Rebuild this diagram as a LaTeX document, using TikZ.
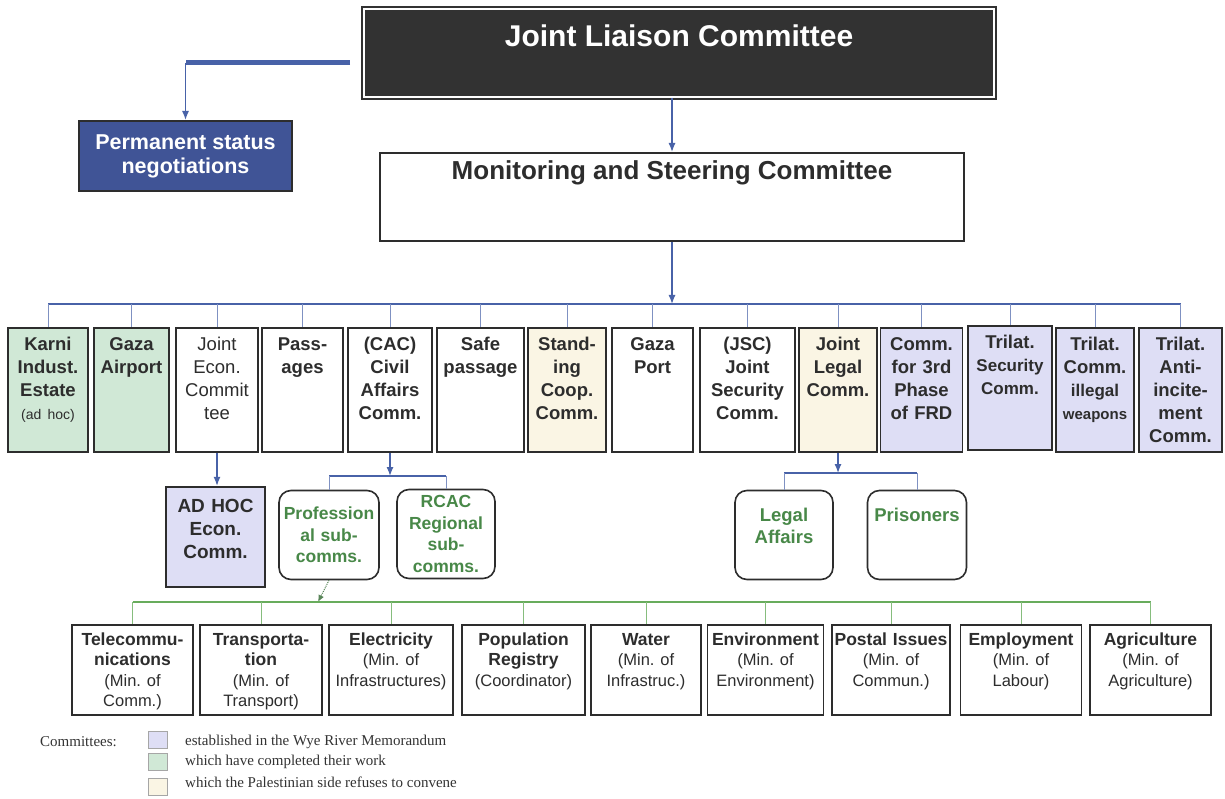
\documentclass[tikz,border=0pt]{standalone}
\usepackage{fontspec}
\setmainfont{Liberation Sans}
\newfontfamily\legendfont{Liberation Serif}
\usetikzlibrary{arrows.meta}
\usepackage{xcolor}
\frenchspacing

\definecolor{linkblue}{RGB}{72,98,168}
\definecolor{permblue}{RGB}{64,84,150}
\definecolor{jlcdark}{RGB}{50,50,50}
\definecolor{boxline}{RGB}{45,45,45}
\definecolor{wyefill}{RGB}{222,222,245}
\definecolor{donefill}{RGB}{208,232,214}
\definecolor{refusefill}{RGB}{250,245,228}
\definecolor{subgreen}{RGB}{72,136,72}
\definecolor{busgreen}{RGB}{104,172,92}

\newcommand{\ministry}[1]{{\fontsize{16.5}{20.5}\selectfont\mdseries #1}}

\begin{document}
\begin{tikzpicture}[x=1pt,y=-1pt]

\tikzset{jlcbox/.style = {draw=jlcdark, fill=jlcdark, line width=2pt, double=white, double distance=1.6pt, minimum width=630pt, inner sep=0pt, text height=38pt, text depth=50pt, text=white, font=\fontsize{30}{34}\selectfont\bfseries}}
\tikzset{mscbox/.style = {draw=boxline, line width=2pt, minimum width=584pt, inner sep=0pt, text height=27pt, text depth=61pt, text=boxline, font=\fontsize{26}{30}\selectfont\bfseries}}
\tikzset{permbox/.style = {draw=boxline, fill=permblue, line width=2pt, minimum width=213pt, minimum height=70pt, align=center, text=white, font=\fontsize{21.5}{24}\selectfont\bfseries}}
\tikzset{rowbox/.style = {draw=boxline, line width=1.6pt, inner sep=0pt, align=center, text height=22pt, text depth=102pt, text=boxline, font=\fontsize{18.5}{23}\selectfont\bfseries}}
\tikzset{subbox/.style = {draw=boxline, line width=1.6pt, rounded corners=12pt, inner sep=0pt, align=center, minimum height=89pt, text=subgreen, font=\fontsize{17.5}{21.5}\selectfont\bfseries}}
\tikzset{botbox/.style = {draw=boxline, line width=1.6pt, inner sep=0pt, align=center, text height=20pt, text depth=70pt, text=boxline, font=\fontsize{17.5}{20.5}\selectfont\bfseries}}
\tikzset{swatch/.style = {draw=gray!70, line width=1pt, minimum width=19pt, minimum height=17pt, inner sep=0pt}}
\tikzset{legendtext/.style = {anchor=west, inner sep=0pt, text=black!80, font=\legendfont\fontsize{15}{18}\selectfont}}
\tikzset{bluebus/.style = {draw=linkblue, line width=2.6pt}}
\tikzset{bluestem/.style = {draw=linkblue!70, line width=1pt}}
\tikzset{bluearrow/.style = {draw=linkblue, line width=1.3pt, -{Latex[length=9pt,width=7pt]}}}
\tikzset{greenbus/.style = {draw=busgreen, line width=2.6pt}}
\tikzset{greenstem/.style = {draw=busgreen!80, line width=0.9pt}}

\useasboundingbox[fill=white] (0,0) rectangle (1225,799);

% top of the chart
\node[jlcbox] (jlc) at (679,53) {Joint Liaison Committee};
\node[mscbox] (msc) at (672,197) {Monitoring and Steering Committee};
\node[permbox] (perm) at (185.5,156) {Permanent status\\negotiations};
\coordinate (jlcleft) at (350,63);
\coordinate (busT) at (672,304);

% committees
\node[rowbox, fill=donefill, text width=80pt] (karni) at (48,390) {Karni\\Indust.\\Estate\\{\fontsize{14}{16}\selectfont\mdseries (ad hoc)}};
\node[rowbox, fill=donefill, text width=75pt] (airport) at (131.5,390) {Gaza\\Airport};
\node[rowbox, text width=82pt] (econ) at (217,390) {\mdseries Joint\\Econ.\\Commit\\tee};
\node[rowbox, text width=81pt] (passages) at (302.5,390) {Pass-\\ages};
\node[rowbox, text width=84pt] (cac) at (390,390) {(CAC)\\Civil\\Affairs\\Comm.};
\node[rowbox, text width=87pt] (safe) at (480.5,390) {Safe\\passage};
\node[rowbox, fill=refusefill, text width=78pt] (standing) at (567,390) {Stand-\\ing\\Coop.\\Comm.};
\node[rowbox, text width=81pt] (port) at (652.5,390) {Gaza\\Port};
\node[rowbox, text width=95pt] (jsc) at (747.5,390) {(JSC)\\Joint\\Security\\Comm.};
\node[rowbox, fill=refusefill, text width=78pt] (legal) at (838,390) {Joint\\Legal\\Comm.};
\node[rowbox, fill=wyefill, text width=82pt] (frd) at (921.5,390) {Comm.\\for 3rd\\Phase\\of FRD};
\node[rowbox, fill=wyefill, text width=84pt] (secur) at (1010,388) {Trilat.\\{\fontsize{17}{21}\selectfont Security}\\{\fontsize{17}{21}\selectfont Comm.}};
\node[rowbox, fill=wyefill, text width=78pt] (weapons) at (1095,390) {Trilat.\\Comm.\\{\fontsize{17}{21}\selectfont illegal}\\{\fontsize{15}{18}\selectfont weapons}};
\node[rowbox, fill=wyefill, text width=83pt] (incite) at (1180.5,390) {Trilat.\\Anti-\\incite-\\ment\\Comm.};

% sub committees
\node[rowbox, fill=wyefill, line width=2.4pt, text width=99pt, text height=25pt, text depth=75pt, font=\fontsize{19}{23}\selectfont\bfseries] (adhoc) at (215.5,537) {AD HOC\\Econ.\\Comm.};
\node[subbox, text width=100pt] (profession) at (329,535) {Profession\\al sub-\\comms.};
\node[subbox, text width=98pt] (rcac) at (446,534) {RCAC\\Regional\\sub-\\comms.};
\node[subbox, text width=98pt, font=\fontsize{18.5}{22}\selectfont\bfseries, text height=31pt, text depth=58pt] (legalaff) at (784,535) {Legal\\Affairs};
\node[subbox, text width=99pt, font=\fontsize{18.5}{22}\selectfont\bfseries, text height=31pt, text depth=58pt] (prisoners) at (917,535) {Prisoners};
\coordinate (busC) at (390,476);
\coordinate (busL) at (838,473);
\coordinate (busG) at (318,602);

% professional sub-committees
\node[botbox, text width=121pt] (tele) at (132.5,670) {Telecommu-\\nications\\\ministry{(Min. of\\Comm.)}};
\node[botbox, text width=122pt] (transp) at (261,670) {Transporta-\\tion\\\ministry{(Min. of\\Transport)}};
\node[botbox, text width=124pt] (elec) at (391,670) {Electricity\\\ministry{(Min. of\\Infrastructures)}};
\node[botbox, text width=123pt] (popreg) at (523.5,670) {Population\\Registry\\\ministry{(Coordinator)}};
\node[botbox, text width=110pt] (water) at (646,670) {Water\\\ministry{(Min. of\\Infrastruc.)}};
\node[botbox, text width=116pt] (environ) at (765.5,670) {Environment\\\ministry{(Min. of\\Environment)}};
\node[botbox, text width=118pt] (postal) at (891,670) {Postal Issues\\\ministry{(Min. of\\Commun.)}};
\node[botbox, text width=121pt] (employ) at (1021,670) {Employment\\\ministry{(Min. of\\Labour)}};
\node[botbox, text width=121pt] (agri) at (1150.5,670) {Agriculture\\\ministry{(Min. of\\Agriculture)}};

% legend
\node[legendtext] (legtitle) at (40,742) {Committees:};
\node[swatch, fill=wyefill] (sw1) at (158,740) {};
\node[swatch, fill=donefill] (sw2) at (158,762) {};
\node[swatch, fill=refusefill] (sw3) at (158,787) {};
\node[legendtext] (leg1) at (185,742) {established in the Wye River Memorandum};
\node[legendtext] (leg2) at (185,762) {which have completed their work};
\node[legendtext] (leg3) at (185,782) {which the Palestinian side refuses to convene};

%edges
\draw[bluearrow] (msc.north |- jlc.south) -- (msc.north);
\draw[bluebus, line width=5pt] (jlcleft) -- (jlcleft -| perm.north);
\draw[bluearrow] (jlcleft -| perm.north) -- (perm.north);
\draw[bluearrow] (msc.south) -- (busT);
\draw[bluebus] (karni.north |- busT) -- (incite.north |- busT);
\foreach \n in {karni,airport,econ,passages,cac,safe,standing,port,jsc,legal,frd,secur,weapons,incite}
  \draw[bluestem] (\n.north |- busT) -- (\n.north);

\draw[bluearrow] (econ.south) -- (econ.south |- adhoc.north);
\draw[bluearrow] (cac.south) -- (busC);
\draw[bluebus] (profession.north |- busC) -- (rcac.north |- busC);
\draw[bluestem] (profession.north |- busC) -- (profession.north);
\draw[bluestem] (rcac.north |- busC) -- (rcac.north);
\draw[bluearrow] (legal.south) -- (busL);
\draw[bluebus] (legalaff.north |- busL) -- (prisoners.north |- busL);
\draw[bluestem] (legalaff.north |- busL) -- (legalaff.north);
\draw[bluestem] (prisoners.north |- busL) -- (prisoners.north);

\draw[draw=subgreen!70!gray, line width=1pt, densely dotted, -{Latex[length=7pt,width=6pt]}] (profession.south) -- (busG);
\draw[greenbus] (tele.north |- busG) -- (agri.north |- busG);
\foreach \n in {tele,transp,elec,popreg,water,environ,postal,employ,agri}
  \draw[greenstem] (\n.north |- busG) -- (\n.north);
\end{tikzpicture}
\end{document}
